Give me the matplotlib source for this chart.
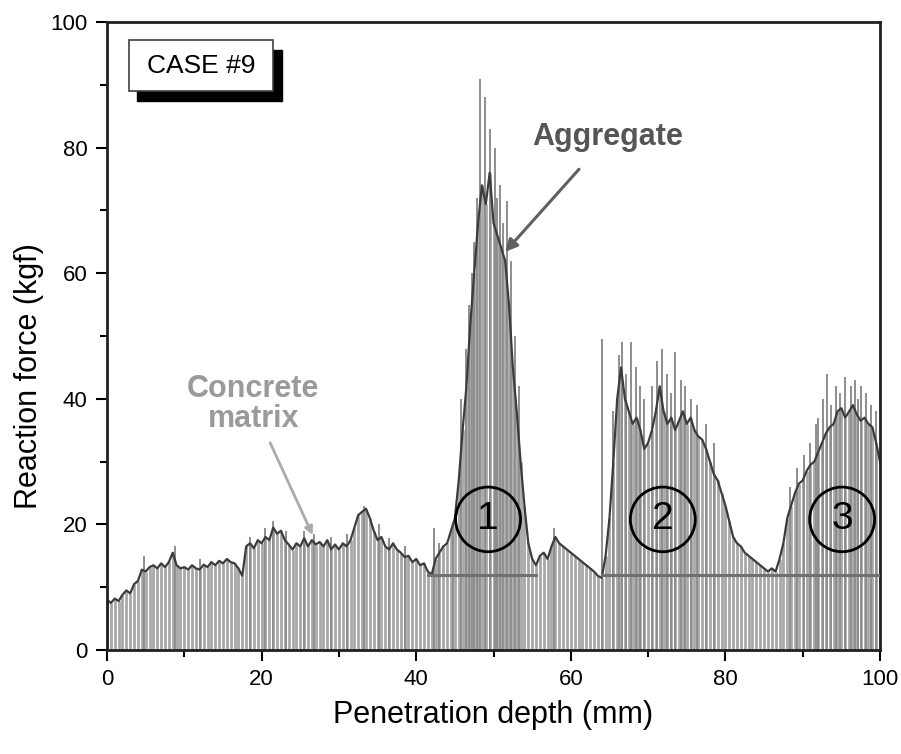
import numpy as np
import matplotlib
matplotlib.use("Agg")
import matplotlib.pyplot as plt
from matplotlib.patches import Rectangle, Ellipse
from matplotlib.ticker import MultipleLocator

plt.rcParams['font.family'] = ['Liberation Sans', 'DejaVu Sans']

# penetration depth, 0.5 mm steps
depth = np.arange(0, 100.01, 0.5)

# reaction force trace (kgf)
force = [
    8.0, 7.5, 8.2, 7.8, 8.8, 9.5, 9.0, 10.5, 11.0, 12.8,
    12.5, 13.2, 13.5, 13.0, 13.8, 13.2, 14.0, 15.5, 13.5, 13.0, 13.2,
    12.8, 13.5, 13.0, 12.8, 13.6, 13.2, 14.0, 13.5, 14.2, 13.8,
    14.5, 14.0, 13.8, 13.0, 11.8, 16.5, 17.0, 16.2, 17.5, 17.0,
    18.0, 17.5, 19.5, 18.5, 19.0, 17.5, 16.8, 16.0, 17.0, 16.5,
    17.8, 16.5, 17.5, 16.8, 17.2, 16.5, 17.5, 16.0, 16.8, 16.0,
    17.0, 16.5, 17.5, 19.5, 21.5, 22.0, 22.5, 21.0, 19.0, 17.5,
    18.0, 16.5, 16.0, 17.0, 16.0, 15.5, 14.8, 15.0, 14.0, 14.5,
    13.5, 13.8, 12.5, 12.0, 14.5, 15.5, 16.5, 17.0, 19.0, 21.0,
    27.0, 35.0, 42.0, 52.0, 60.0, 68.0, 74.0, 71.0, 76.0, 68.0,
    66.0, 64.0, 62.0, 55.0, 45.0, 38.0, 30.0, 23.0, 17.0, 14.5,
    13.5, 15.0, 15.5, 14.5, 16.5, 18.0, 17.0, 16.5, 16.0, 15.5,
    15.0, 14.5, 14.0, 13.5, 13.0, 12.5, 11.8, 11.5, 15.0, 21.0,
    30.0, 40.0, 45.0, 40.0, 38.0, 36.0, 37.0, 35.0, 32.0, 33.0,
    35.0, 38.0, 42.0, 38.0, 36.0, 37.0, 35.0, 36.5, 38.0, 36.0,
    37.0, 35.0, 34.0, 33.5, 32.0, 30.0, 28.0, 27.0, 25.0, 23.0,
    20.5, 18.0, 17.0, 16.5, 15.5, 15.0, 14.5, 14.0, 13.5, 13.0,
    12.5, 13.0, 12.5, 14.5, 17.0, 21.0, 23.0, 25.0, 26.5, 27.0,
    28.5, 29.5, 30.0, 31.5, 33.0, 34.5, 35.5, 36.0, 38.0, 38.5,
    37.0, 38.0, 39.0, 37.5, 36.5, 37.0, 36.0, 35.5, 33.0, 30.0,
]

# single readings that poke out above the trace
spike_x = [4.8, 8.8, 12.0, 18.5, 20.5, 21.5, 23.2, 25.5, 26.8, 29.0,
           31.0, 33.2, 35.2, 36.5, 38.5, 42.3, 43.0, 44.8, 45.8, 46.5,
           46.8, 47.2, 47.5, 47.8, 48.3, 48.9, 49.5, 50.2, 50.5, 50.8,
           51.2, 51.7, 52.2, 52.8, 53.3, 57.8, 64.0, 65.5, 66.2, 66.6,
           67.2, 67.8, 68.4, 69.0, 69.5, 70.5, 71.2, 71.8, 72.4, 73.0,
           73.5, 74.2, 74.8, 75.5, 76.3, 77.5, 78.5, 88.3, 89.3, 90.2,
           91.0, 91.7, 92.0, 92.6, 93.1, 93.6, 94.3, 94.8, 95.5, 96.2,
           96.8, 97.2, 97.5, 98.2, 98.8, 99.5]
spike_y = [15.0, 16.5, 14.5, 18.0, 19.5, 20.5, 19.0, 19.0, 18.5, 18.0,
           18.5, 23.0, 20.0, 17.8, 16.5, 19.5, 17.0, 20.0, 40.0, 48.0,
           55.0, 60.0, 65.0, 72.0, 91.0, 88.0, 83.0, 80.0, 72.0, 74.0,
           68.0, 71.5, 62.0, 50.0, 42.0, 19.5, 49.5, 38.0, 47.0, 49.0,
           44.0, 49.0, 45.0, 42.0, 40.0, 42.0, 46.0, 48.0, 44.0, 41.0,
           47.5, 43.0, 42.0, 40.0, 39.0, 36.0, 33.0, 26.0, 29.0, 31.0,
           33.0, 36.0, 37.0, 40.0, 44.0, 39.0, 42.0, 41.0, 43.5, 42.0,
           43.0, 40.0, 42.0, 41.0, 39.0, 38.0]

# baseline level and the spans it is drawn over
base_level = 12.0
base_spans = [(41.5, 55.5), (64.0, 100.0)]

# zones: label, centre depth
zones = ["1", "2", "3"]
zone_x = [49.3, 71.9, 95.1]
zone_y = 20.8

fig = plt.figure(figsize=(9.01, 7.54), dpi=100)
ax = fig.add_axes([0.1188, 0.1379, 0.8579, 0.8329])

ax.vlines(depth, 0, force, color='#a8a8a8', lw=2.0, zorder=1)
ax.vlines(spike_x, 0, spike_y, color='#8e8e8e', lw=1.4, zorder=1)
ax.plot(depth, force, color='#3c3c3c', lw=1.6, zorder=2)

for x0, x1 in base_spans:
    ax.plot([x0, x1], [base_level, base_level], color='#707070', lw=2.2, zorder=3)

for lab, zx in zip(zones, zone_x):
    ax.add_patch(Ellipse((zx, zone_y), 8.4, 10.3, fill=False, ec='black', lw=2.0, zorder=4))
    ax.text(zx, zone_y, lab, ha='center', va='center', fontsize=28, zorder=5)

# CASE label with drop shadow
ax.add_patch(Rectangle((3.9, 87.4), 18.7, 8.1, fc='black', ec='black', zorder=5))
ax.add_patch(Rectangle((2.85, 89.0), 18.65, 8.1, fc='white', ec='#404040', lw=1.2, zorder=6))
ax.text(12.2, 93.0, "CASE #9", ha='center', va='center', fontsize=19, zorder=7)

ax.annotate("Aggregate", xy=(51.5, 63.4), xytext=(64.8, 81.7),
            ha='center', va='center', fontsize=22, fontweight='bold', color='#555555',
            arrowprops=dict(arrowstyle='-|>', color='#606060', lw=2.2,
                            shrinkA=14, shrinkB=0, mutation_scale=18))
ax.text(18.9, 39.2, "Concrete\nmatrix", ha='center', va='center', fontsize=22,
        fontweight='bold', color='#9a9a9a', linespacing=1.0)
ax.annotate("", xy=(26.6, 18.3), xytext=(21.1, 33.0),
            arrowprops=dict(arrowstyle='-|>', color='#ababab', lw=2.0,
                            shrinkA=0, shrinkB=0, mutation_scale=12))

ax.set_xlim(0, 100)
ax.set_ylim(0, 100)
ax.xaxis.set_major_locator(MultipleLocator(20))
ax.xaxis.set_minor_locator(MultipleLocator(10))
ax.yaxis.set_major_locator(MultipleLocator(20))
ax.yaxis.set_minor_locator(MultipleLocator(10))
ax.tick_params(which='major', direction='out', length=8, width=1.5, labelsize=16, pad=6)
ax.tick_params(which='minor', direction='out', length=5, width=1.5)
for sp in ax.spines.values():
    sp.set_linewidth(2.0)
    sp.set_color('#202020')

ax.set_xlabel("Penetration depth (mm)", fontsize=22, labelpad=7)
ax.set_ylabel("Reaction force (kgf)", fontsize=22)
ax.yaxis.set_label_coords(-0.082, 0.436)

fig.savefig("out.png", dpi=100, facecolor='white')
